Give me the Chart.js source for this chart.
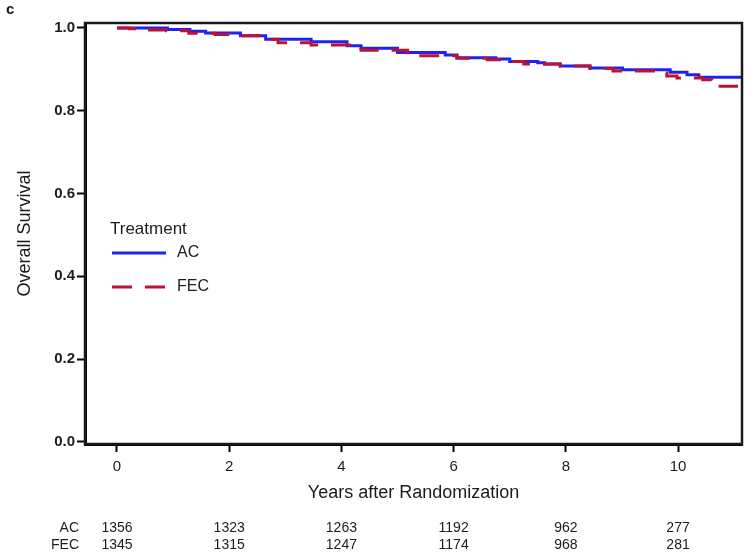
<!DOCTYPE html>
<html>
<head>
<meta charset="utf-8">
<script src="https://cdn.jsdelivr.net/npm/chart.js@4.4.1/dist/chart.umd.min.js"></script>
<style>
  html, body { margin: 0; padding: 0; background: #fff; }
  #wrap { width: 750px; height: 558px; position: relative; }
</style>
</head>
<body>
<div id="wrap"><canvas id="chart" width="750" height="558"></canvas></div>
<script>
// Kaplan-Meier curves (time in years, survival)
const acTimes = [0, 0.9, 1.3, 1.58, 2.2, 2.65, 3.46, 4.1, 4.35, 5.0, 5.85, 6.06, 6.75, 7.0, 7.5, 7.62, 7.9, 8.43, 9.01, 9.86, 10.16, 10.37, 11.14];
const acSurv  = [1.0, 0.996, 0.992, 0.988, 0.981, 0.973, 0.967, 0.957, 0.951, 0.941, 0.935, 0.928, 0.925, 0.919, 0.916, 0.913, 0.908, 0.903, 0.899, 0.893, 0.887, 0.881, 0.881];

const fecTimes = [0, 0.22, 0.45, 0.88, 1.28, 1.75, 2.1, 2.64, 2.87, 3.46, 4.35, 5.18, 6.06, 6.6, 7.0, 7.25, 7.9, 8.43, 8.84, 9.65, 9.8, 9.98, 10.44, 10.6, 10.75, 11.07];
const fecSurv  = [1.0, 0.998, 0.995, 0.993, 0.987, 0.984, 0.981, 0.973, 0.964, 0.959, 0.946, 0.933, 0.927, 0.923, 0.919, 0.913, 0.908, 0.902, 0.896, 0.891, 0.884, 0.879, 0.875, 0.867, 0.859, 0.859];

const xTicks = [0, 2, 4, 6, 8, 10];
const yTicks = [0.0, 0.2, 0.4, 0.6, 0.8, 1.0];

// number at risk
const riskTimes = [0, 2, 4, 6, 8, 10];
const riskAC  = [1356, 1323, 1263, 1192, 962, 277];
const riskFEC = [1345, 1315, 1247, 1174, 968, 281];

const FONT = "'Liberation Sans', Arial, sans-serif";
const BLUE = "#2222f0";
const RED = "#bf1230";
const INK = "#1c1c1c";

const toPoints = (xs, ys) => xs.map((x, i) => ({ x, y: ys[i] }));

// frame round the plot area (top + right sides)
const framePlugin = {
  id: "frame",
  afterDatasetsDraw(chart) {
    const { ctx, chartArea: a } = chart;
    ctx.save();
    ctx.strokeStyle = "#1a1a1a";
    ctx.lineWidth = 2.5;
    ctx.strokeRect(a.left, a.top, a.right - a.left, a.bottom - a.top);
    ctx.restore();
  },
};

// legend drawn inside the plot, from the datasets
const legendPlugin = {
  id: "kmLegend",
  afterDraw(chart) {
    const { ctx } = chart;
    ctx.save();
    ctx.fillStyle = INK;
    ctx.textBaseline = "middle";
    ctx.textAlign = "left";
    ctx.font = "17px " + FONT;
    ctx.fillText("Treatment", 110, 229);

    const rows = [253, 287];
    chart.data.datasets.forEach((ds, i) => {
      const y = rows[i];
      ctx.strokeStyle = ds.borderColor;
      ctx.lineWidth = 3;
      ctx.setLineDash(ds.borderDash || []);
      ctx.beginPath();
      ctx.moveTo(112, y);
      ctx.lineTo(166, y);
      ctx.stroke();
      ctx.setLineDash([]);
      ctx.fillStyle = INK;
      ctx.font = "16px " + FONT;
      ctx.fillText(ds.label, 177, y);
    });
    ctx.restore();
  },
};

// panel letter + number-at-risk rows
const extrasPlugin = {
  id: "extras",
  afterDraw(chart) {
    const { ctx } = chart;
    const xs = chart.scales.x;
    ctx.save();
    ctx.fillStyle = INK;
    ctx.textBaseline = "middle";

    ctx.textAlign = "left";
    ctx.font = "bold 15px " + FONT;
    ctx.fillText("c", 6, 10);

    const rows = [
      { label: "AC", values: riskAC, y: 528 },
      { label: "FEC", values: riskFEC, y: 545 },
    ];
    rows.forEach((r) => {
      ctx.textAlign = "right";
      ctx.font = "14px " + FONT;
      ctx.fillText(r.label, 79, r.y);
      ctx.textAlign = "center";
      r.values.forEach((v, i) => {
        ctx.fillText(String(v), xs.getPixelForValue(riskTimes[i]), r.y);
      });
    });
    ctx.restore();
  },
};

new Chart(document.getElementById("chart"), {
  type: "line",
  data: {
    datasets: [
      {
        label: "AC",
        data: toPoints(acTimes, acSurv),
        borderColor: BLUE,
        borderWidth: 3,
        stepped: "before",
        pointRadius: 0,
        fill: false,
        order: 1,
      },
      {
        label: "FEC",
        data: toPoints(fecTimes, fecSurv),
        borderColor: RED,
        borderWidth: 3,
        borderDash: [20, 13],
        stepped: "before",
        pointRadius: 0,
        fill: false,
        order: 0,
      },
    ],
  },
  options: {
    responsive: false,
    animation: false,
    layout: { padding: { top: 23, right: 8, bottom: 54, left: 0 } },
    plugins: {
      legend: { display: false },
      tooltip: { enabled: false },
    },
    scales: {
      x: {
        type: "linear",
        min: -0.57,
        max: 11.14,
        afterBuildTicks: (s) => { s.ticks = xTicks.map((v) => ({ value: v })); },
        afterFit: (s) => { s.height = 60; },
        grid: {
          display: true,
          drawOnChartArea: false,
          drawTicks: true,
          tickLength: 8,
          tickWidth: 2,
          tickColor: "#000",
        },
        border: { display: true, width: 3, color: "#000" },
        ticks: {
          color: INK,
          padding: 6,
          maxRotation: 0,
          font: { family: FONT, size: 15 },
        },
        title: {
          display: true,
          text: "Years after Randomization",
          color: INK,
          padding: { top: 0, bottom: 0 },
          font: { family: FONT, size: 18 },
        },
      },
      y: {
        type: "linear",
        min: -0.005,
        max: 1.012,
        afterBuildTicks: (s) => { s.ticks = yTicks.map((v) => ({ value: v })); },
        afterFit: (s) => { s.width = 85; },
        grid: {
          display: true,
          drawOnChartArea: false,
          drawTicks: true,
          tickLength: 8,
          tickWidth: 2,
          tickColor: "#000",
        },
        border: { display: true, width: 3, color: "#000" },
        ticks: {
          color: INK,
          padding: 2,
          callback: (v) => Number(v).toFixed(1),
          font: { family: FONT, size: 15, weight: "bold" },
        },
        title: {
          display: true,
          text: "Overall Survival",
          color: INK,
          padding: { top: 14, bottom: 0 },
          font: { family: FONT, size: 18 },
        },
      },
    },
  },
  plugins: [framePlugin, legendPlugin, extrasPlugin],
});
</script>
</body>
</html>
